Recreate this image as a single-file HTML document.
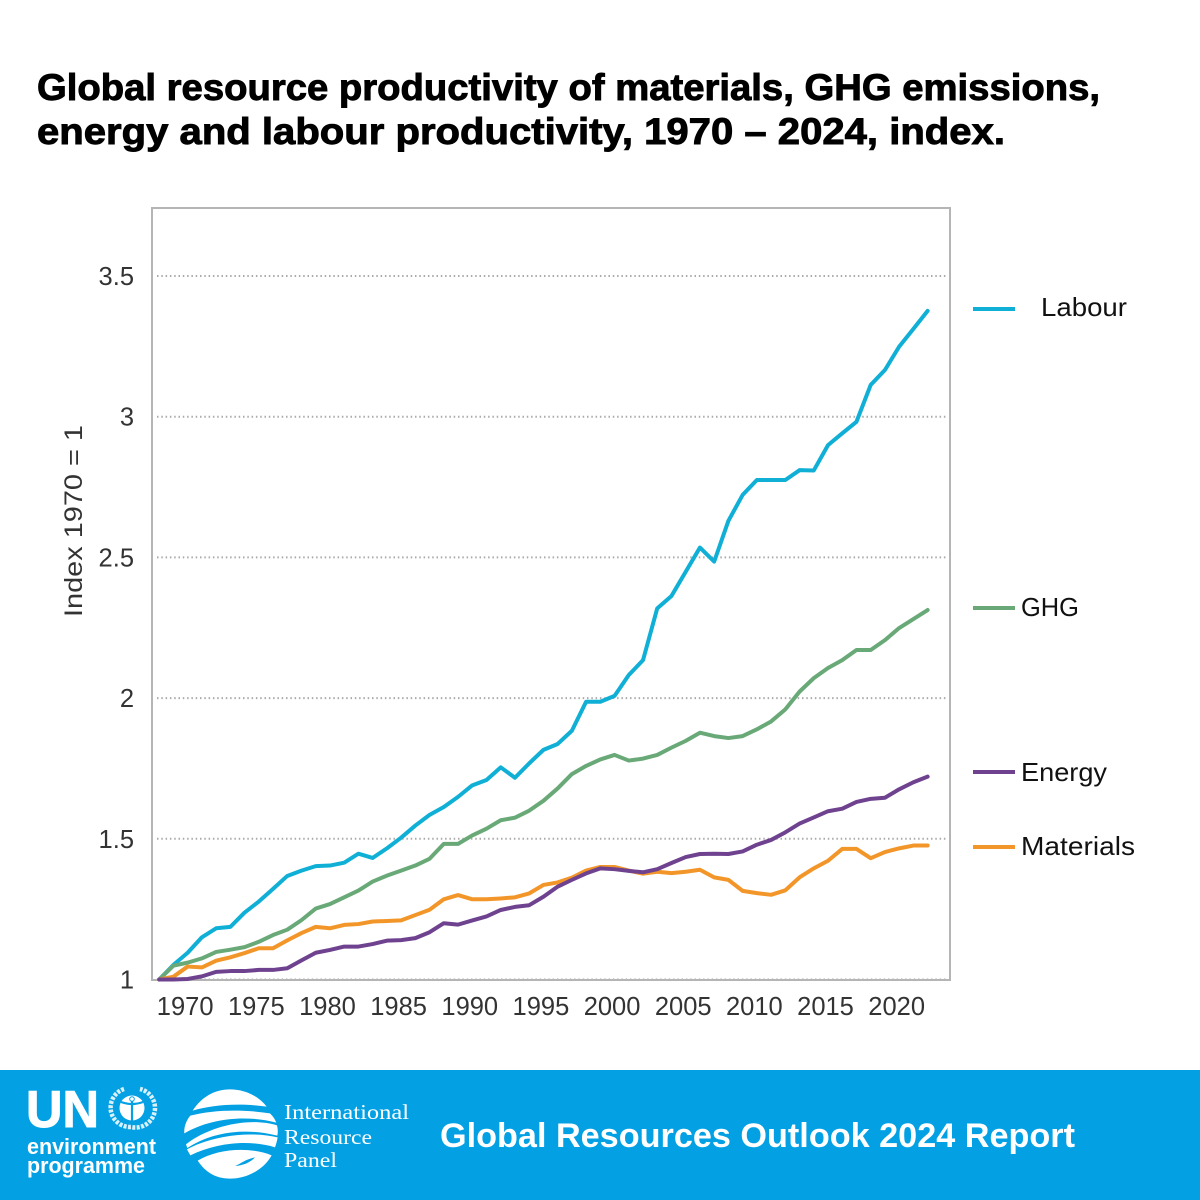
<!DOCTYPE html>
<html>
<head>
<meta charset="utf-8">
<title>Global resource productivity</title>
<style>
html,body{margin:0;padding:0;background:#fff;}
svg{display:block;}
text{font-family:"Liberation Sans",sans-serif;}
</style>
</head>
<body>
<svg id="chart" xmlns="http://www.w3.org/2000/svg" width="1200" height="1200" viewBox="0 0 1200 1200">
  <rect x="0" y="0" width="1200" height="1200" fill="#ffffff"/>
  <text x="37" y="100" font-size="37" font-weight="700" fill="#000" stroke="#000" stroke-width="0.9" textLength="1063" lengthAdjust="spacingAndGlyphs">Global resource productivity of materials, GHG emissions,</text>
  <text x="37" y="144" font-size="37" font-weight="700" fill="#000" stroke="#000" stroke-width="0.9" textLength="968" lengthAdjust="spacingAndGlyphs">energy and labour productivity, 1970 – 2024, index.</text>

  <g id="grid"></g>
  <rect x="152" y="208" width="798" height="772" fill="none" stroke="#b5b5b5" stroke-width="2"/>
  <g id="yticks"></g>
  <g id="xticks"></g>
  <text transform="translate(82,521) rotate(-90)" text-anchor="middle" font-size="25" fill="#333" textLength="192" lengthAdjust="spacingAndGlyphs">Index 1970 = 1</text>
  <g id="series"></g>

  <g>
    <line x1="973" y1="309" x2="1015" y2="309" stroke="#0fafd6" stroke-width="4"/>
    <text x="1041" y="316" font-size="26" fill="#111" textLength="86" lengthAdjust="spacingAndGlyphs">Labour</text>
    <line x1="973" y1="608" x2="1015" y2="608" stroke="#69a977" stroke-width="4"/>
    <text x="1021" y="616" font-size="26" fill="#111" textLength="58" lengthAdjust="spacingAndGlyphs">GHG</text>
    <line x1="973" y1="772" x2="1015" y2="772" stroke="#6f4290" stroke-width="4"/>
    <text x="1021" y="781" font-size="26" fill="#111" textLength="86" lengthAdjust="spacingAndGlyphs">Energy</text>
    <line x1="973" y1="847" x2="1015" y2="847" stroke="#f39629" stroke-width="4"/>
    <text x="1021" y="855" font-size="26" fill="#111" textLength="114" lengthAdjust="spacingAndGlyphs">Materials</text>
  </g>

  <g>
    <rect x="0" y="1070" width="1200" height="130" fill="#03a1e4"/>
    <text x="26" y="1127" font-size="52" font-weight="700" fill="#fff" stroke="#fff" stroke-width="1" textLength="73" lengthAdjust="spacingAndGlyphs">UN</text>
    <g>
      <path d="M124 1089 A19.5 19.5 0 0 0 131 1127 A19.5 19.5 0 0 0 140 1089" fill="none" stroke="#fff" stroke-width="4.5" stroke-dasharray="3 1.4" opacity="0.85"/>
      <circle cx="132" cy="1108" r="12.5" fill="#fff"/>
      <path d="M121 1102 Q132 1106 143 1102 M132 1100 V1121" stroke="#03a1e4" stroke-width="2.2" fill="none"/>
      <circle cx="132" cy="1099" r="2.3" fill="#fff" stroke="#03a1e4" stroke-width="1"/>
    </g>
    <text x="27" y="1154" font-size="22" font-weight="700" fill="#fff" textLength="129" lengthAdjust="spacingAndGlyphs">environment</text>
    <text x="27" y="1173" font-size="22" font-weight="700" fill="#fff" textLength="118" lengthAdjust="spacingAndGlyphs">programme</text>
    <g transform="translate(175,1080) scale(0.3333)" fill="#fff">
      <path d="M53 92 C80 50 120 28 165 28 C210 28 250 48 275 80 C190 68 110 75 53 92Z"/>
      <path d="M28 160 C26 140 35 120 46 107 C120 88 205 88 285 100 C295 110 300 118 304 128 C220 105 110 112 28 160Z"/>
      <path d="M33 193 C100 140 220 110 306 136 C309 148 309 155 307 167 C220 145 120 150 37 204Z"/>
      <path d="M36 208 C110 168 220 152 308 172 C306 182 304 192 300 202 C230 180 130 185 46 226Z"/>
      <path d="M68 242 C130 205 225 200 290 226 C265 270 215 296 165 296 C120 296 90 275 68 242Z"/>
      <path d="M180 258 C200 250 210 238 240 232 C225 248 205 256 180 258Z" fill="#03a1e4"/>
    </g>
    <g fill="#fff" font-size="21" style="font-family:'Liberation Serif',serif">
      <text x="284" y="1119" style="font-family:'Liberation Serif',serif" textLength="125" lengthAdjust="spacingAndGlyphs">International</text>
      <text x="284" y="1144" style="font-family:'Liberation Serif',serif" textLength="88" lengthAdjust="spacingAndGlyphs">Resource</text>
      <text x="284" y="1167" style="font-family:'Liberation Serif',serif" textLength="53" lengthAdjust="spacingAndGlyphs">Panel</text>
    </g>
    <text x="440" y="1147" font-size="34" font-weight="700" fill="#fff" textLength="635" lengthAdjust="spacingAndGlyphs">Global Resources Outlook 2024 Report</text>
  </g>
</svg>
<script>
const startYear = 1968;
const xTickLabels = [1970, 1975, 1980, 1985, 1990, 1995, 2000, 2005, 2010, 2015, 2020];
const yTickValues = [1, 1.5, 2, 2.5, 3, 3.5];
const yTickLabels = ["1", "1.5", "2", "2.5", "3", "3.5"];
const labour = [1.0,1.052,1.095,1.150,1.182,1.187,1.238,1.277,1.322,1.368,1.387,1.403,1.405,1.415,1.447,1.432,1.466,1.504,1.547,1.585,1.613,1.649,1.690,1.709,1.754,1.717,1.768,1.816,1.837,1.884,1.987,1.987,2.008,2.082,2.135,2.319,2.363,2.449,2.535,2.485,2.630,2.722,2.775,2.775,2.775,2.810,2.809,2.899,2.941,2.982,3.113,3.166,3.249,3.312,3.376];
const ghg = [1.0,1.049,1.060,1.075,1.098,1.106,1.115,1.134,1.158,1.177,1.211,1.252,1.268,1.292,1.316,1.348,1.369,1.387,1.405,1.429,1.482,1.482,1.512,1.536,1.566,1.575,1.600,1.635,1.679,1.730,1.759,1.782,1.798,1.778,1.785,1.798,1.824,1.848,1.877,1.865,1.858,1.865,1.889,1.917,1.960,2.023,2.071,2.107,2.135,2.171,2.171,2.206,2.249,2.281,2.313];
const energy = [1.0,1.0,1.002,1.011,1.027,1.030,1.030,1.034,1.034,1.040,1.068,1.095,1.105,1.117,1.117,1.126,1.138,1.140,1.147,1.168,1.200,1.195,1.210,1.224,1.247,1.258,1.264,1.294,1.330,1.354,1.377,1.395,1.392,1.386,1.381,1.392,1.414,1.435,1.446,1.447,1.446,1.455,1.479,1.496,1.523,1.554,1.576,1.598,1.607,1.631,1.642,1.646,1.676,1.701,1.721];
const materials = [1.0,1.010,1.046,1.043,1.067,1.079,1.094,1.111,1.111,1.139,1.165,1.187,1.182,1.194,1.197,1.206,1.208,1.210,1.229,1.248,1.285,1.300,1.285,1.285,1.288,1.292,1.306,1.336,1.345,1.362,1.387,1.400,1.400,1.387,1.376,1.383,1.378,1.383,1.390,1.363,1.354,1.315,1.307,1.301,1.317,1.363,1.395,1.422,1.464,1.464,1.431,1.453,1.466,1.476,1.476];

const NS = 'http://www.w3.org/2000/svg';
function xScale(year) { return 159.2 + (year - startYear) * 14.23; }
function yScale(v) { return 979.5 - (v - 1) * 281.4; }

const gridG = document.getElementById('grid');
const yG = document.getElementById('yticks');
yTickValues.forEach(function (v, i) {
  const ln = document.createElementNS(NS, 'line');
  
  
  ln.setAttribute('x1', 157);
  ln.setAttribute('x2', 948);
  ln.setAttribute('y1', yScale(v));
  ln.setAttribute('y2', yScale(v));
  ln.setAttribute('stroke', '#aaaaaa');
  ln.setAttribute('stroke-width', '2');
  ln.setAttribute('stroke-dasharray', '1.5 2.8');
  gridG.appendChild(ln);
  const t = document.createElementNS(NS, 'text');
  
  
  t.setAttribute('x', 134);
  t.setAttribute('y', yScale(v) + 9);
  t.setAttribute('text-anchor', 'end');
  t.setAttribute('font-size', '25.5');
  t.setAttribute('fill', '#333');
  t.textContent = yTickLabels[i];
  yG.appendChild(t);
});

const xG = document.getElementById('xticks');
xTickLabels.forEach(function (yr) {
  const t = document.createElementNS(NS, 'text');
  
  
  t.setAttribute('x', xScale(yr) - 2.5);
  t.setAttribute('y', 1015);
  t.setAttribute('text-anchor', 'middle');
  t.setAttribute('font-size', '25.5');
  t.setAttribute('fill', '#333');
  t.textContent = String(yr);
  xG.appendChild(t);
});

function drawLine(values, color, name) {
  const p = document.createElementNS(NS, 'polyline');
  
  
  p.setAttribute('points', values.map(function (v, i) {
    return xScale(startYear + i).toFixed(2) + ',' + yScale(v).toFixed(2);
  }).join(' '));
  p.setAttribute('fill', 'none');
  p.setAttribute('stroke', color);
  p.setAttribute('stroke-width', '4');
  p.setAttribute('stroke-linejoin', 'round');
  p.setAttribute('stroke-linecap', 'round');
  document.getElementById('series').appendChild(p);
}
drawLine(labour, '#0fafd6', 'line-labour');
drawLine(ghg, '#69a977', 'line-ghg');
drawLine(materials, '#f39629', 'line-materials');
drawLine(energy, '#6f4290', 'line-energy');
</script>
</body>
</html>
